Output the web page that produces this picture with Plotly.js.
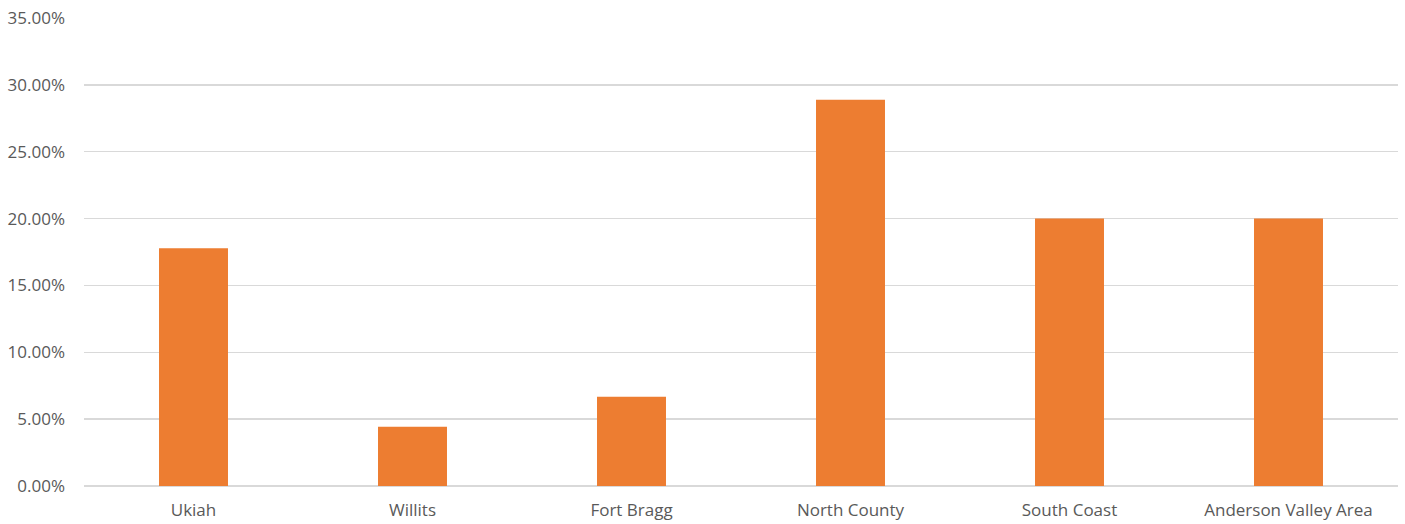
<!DOCTYPE html>
<html>
<head>
<meta charset="utf-8">
<script src="https://cdn.plot.ly/plotly-3.0.1.min.js"></script>
<style>html,body{margin:0;padding:0;background:#fff;}#chart{width:1405px;height:524px;}</style>
</head>
<body>
<div id="chart"></div>
<script>
const categories = ["Ukiah", "Willits", "Fort Bragg", "North County", "South Coast", "Anderson Valley Area"];
const values = [0.1778, 0.0444, 0.0667, 0.2889, 0.2000, 0.2000];
const yTicks = [0, 0.05, 0.10, 0.15, 0.20, 0.25, 0.30, 0.35];

const trace = {
  type: "bar",
  x: categories,
  y: values,
  marker: {color: "#ED7D31"},
  hoverinfo: "x+y"
};

const layout = {
  width: 1405,
  height: 524,
  margin: {l: 84, r: 7, t: 18, b: 38},
  paper_bgcolor: "#ffffff",
  plot_bgcolor: "#ffffff",
  bargap: 0.685,
  showlegend: false,
  font: {family: "Open Sans, Liberation Sans, sans-serif", size: 17, color: "#595959"},
  xaxis: {
    type: "category",
    showgrid: false,
    zeroline: false,
    showline: false,
    ticks: "",
    ticklabelstandoff: 12,
    tickfont: {size: 17, color: "#595959"}
  },
  yaxis: {
    range: [0, 0.35],
    tickvals: yTicks,
    tickformat: ".2%",
    showgrid: true,
    gridcolor: "#d9d9d9",
    gridwidth: 1.3,
    zeroline: true,
    zerolinecolor: "#d9d9d9",
    zerolinewidth: 1.3,
    showline: false,
    ticks: "",
    ticklabelstandoff: 18,
    tickfont: {size: 17, color: "#595959"}
  }
};

Plotly.newPlot("chart", [trace], layout, {displayModeBar: false, staticPlot: true});
</script>
</body>
</html>
